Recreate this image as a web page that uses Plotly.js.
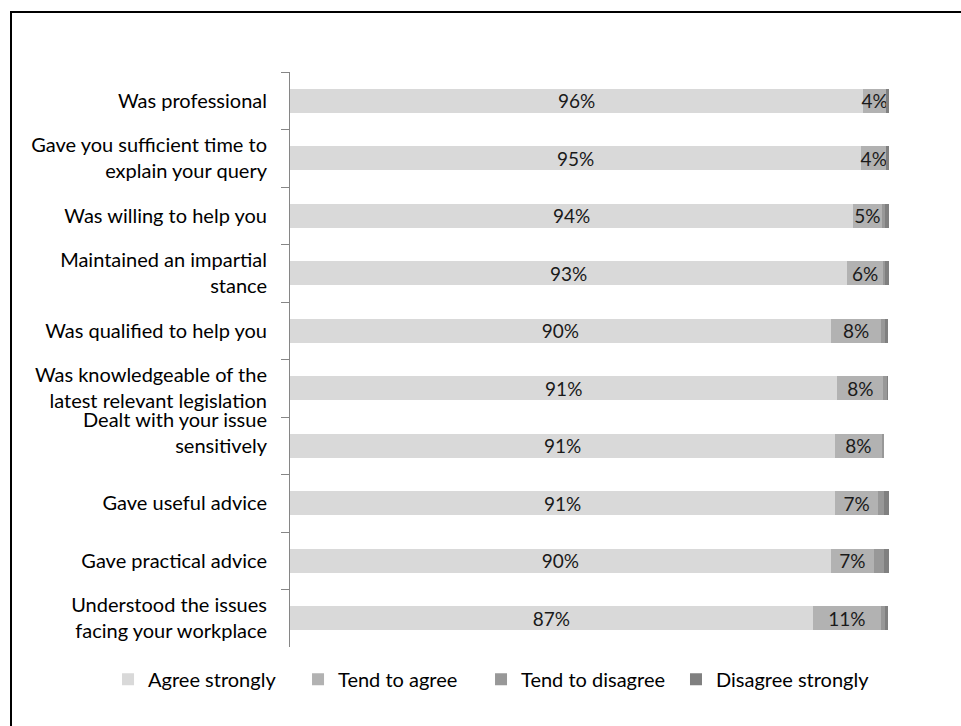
<!DOCTYPE html>
<html>
<head>
<meta charset="utf-8">
<script src="https://cdn.plot.ly/plotly-3.0.1.min.js"></script>
<style>
  html, body { margin: 0; padding: 0; background: #fff; }
  #wrap { position: relative; width: 961px; height: 726px; overflow: hidden; }
  #chart { position: absolute; left: 0; top: 0; width: 961px; height: 726px; }
  #frame { position: absolute; left: 10px; top: 11px; width: 1000px; height: 800px;
           border-top: 2px solid #000; border-left: 2px solid #000; pointer-events: none; }
</style>
</head>
<body>
<div id="wrap">
  <div id="chart"></div>
  <div id="frame"></div>
</div>
<script>
const categories = [
  "Was professional",
  "Gave you sufficient time to<br>explain your query",
  "Was willing to help you",
  "Maintained an impartial<br>stance",
  "Was qualified to help you",
  "Was knowledgeable of the<br>latest relevant legislation",
  "Dealt with your issue<br>sensitively<br>\u00a0",
  "Gave useful advice",
  "Gave practical advice",
  "Understood the issues<br>facing your workplace"
];
const seriesNames = ["Agree strongly", "Tend to agree", "Tend to disagree", "Disagree strongly"];
const agreeStrongly   = [95.7, 95.4, 94.0, 93.0, 90.3, 91.4, 91.0, 91.0, 90.3, 87.3];
const tendToAgree     = [3.8, 4.1, 4.8, 6.0, 8.4, 7.6, 7.8, 7.2, 7.2, 11.3];
const tendToDisagree  = [0.0, 0.0, 0.5, 0.4, 0.7, 0.6, 0.3, 0.9, 1.6, 0.7];
const disagreeStrongly= [0.45, 0.7, 0.8, 0.9, 0.45, 0.3, 0.0, 1.0, 1.0, 0.5];
const colors = ["#d9d9d9", "#b2b2b2", "#989898", "#808080"];

const FONT = "Lato, 'Open Sans', sans-serif";
const values = [agreeStrongly, tendToAgree, tendToDisagree, disagreeStrongly];
const legendIds = ["legend", "legend2", "legend3", "legend4"];
const legendX = [-0.3038, 0.0134, 0.3189, 0.6444];

const traces = values.map((vals, i) => ({
  type: "bar",
  orientation: "h",
  name: seriesNames[i],
  legend: legendIds[i],
  y: categories,
  x: vals,
  marker: { color: colors[i], line: { width: 0 } },
  texttemplate: i < 2 ? "%{x:.0f}%" : "",
  textposition: i < 2 ? "inside" : "none",
  insidetextanchor: "middle",
  textangle: 0,
  constraintext: "none",
  textfont: { family: FONT, size: 19, color: "#1a1a1a" },
  hoverinfo: "skip"
}));

const layout = {
  width: 961,
  height: 726,
  margin: { l: 290, r: 72, t: 72, b: 79, pad: 0 },
  paper_bgcolor: "#fff",
  plot_bgcolor: "#fff",
  barmode: "stack",
  bargap: 0.58,
  font: { family: FONT, size: 20, color: "#000" },
  showlegend: true,
  xaxis: {
    range: [0, 100],
    visible: false,
    fixedrange: true
  },
  yaxis: {
    type: "category",
    autorange: "reversed",
    showline: true,
    linecolor: "#868686",
    linewidth: 1,
    ticks: "outside",
    tickson: "boundaries",
    ticklen: 8,
    tickcolor: "#868686",
    showgrid: false,
    zeroline: false,
    automargin: false,
    ticklabelstandoff: 18,
    tickfont: { family: FONT, size: 20, color: "#000" },
    fixedrange: true
  }
};

legendIds.forEach((id, i) => {
  layout[id] = {
    orientation: "h",
    x: legendX[i], xanchor: "left",
    y: -0.022, yanchor: "top",
    bgcolor: "rgba(0,0,0,0)",
    font: { family: FONT, size: 20, color: "#000" },
    itemclick: false
  };
});

Plotly.newPlot("chart", traces, layout, { staticPlot: true, displayModeBar: false });
</script>
</body>
</html>
